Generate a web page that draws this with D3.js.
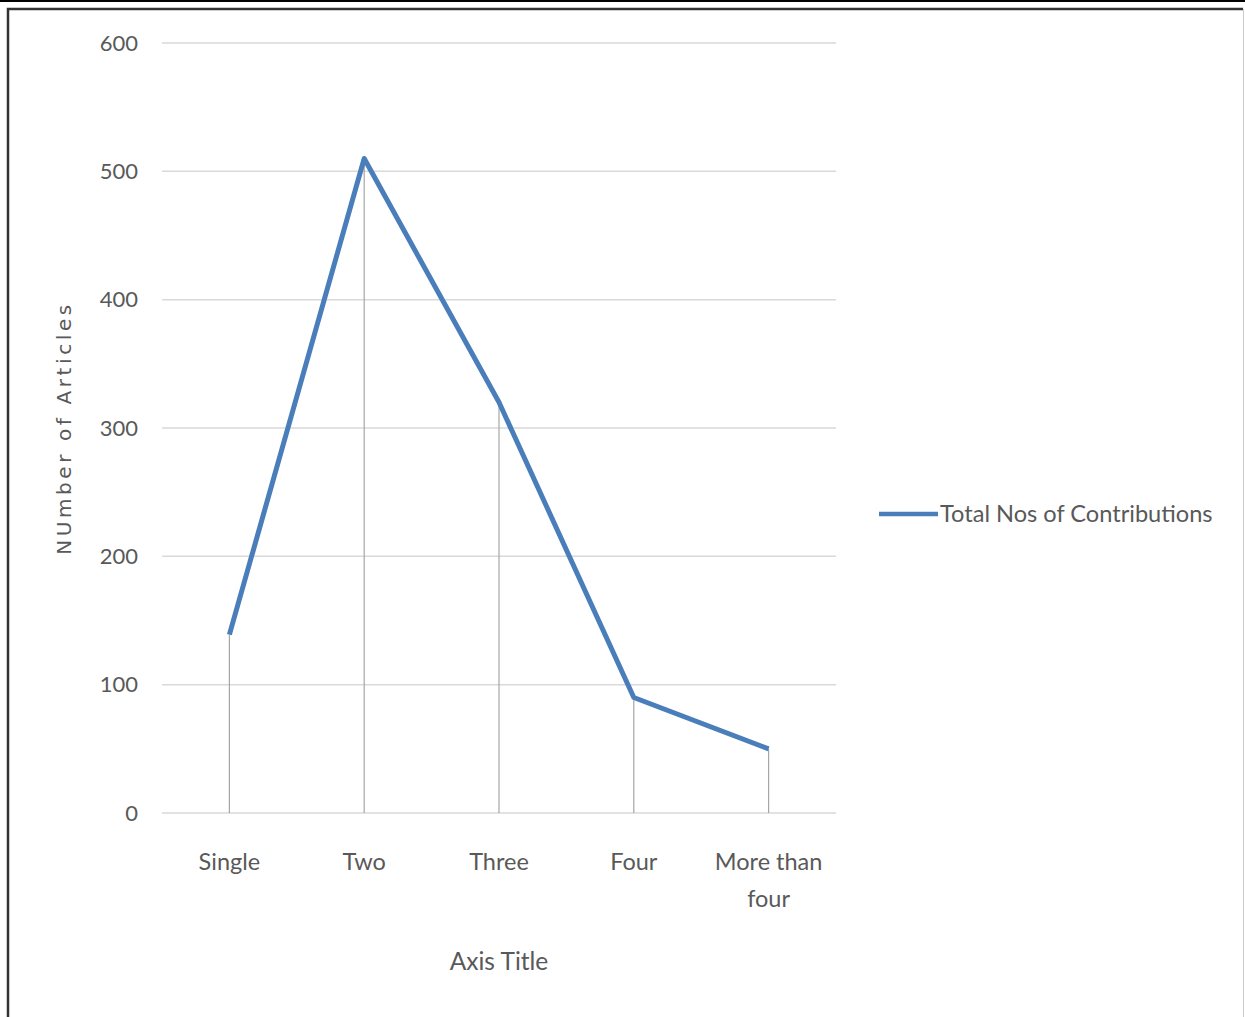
<!DOCTYPE html>
<html>
<head>
<meta charset="utf-8">
<script src="https://cdn.jsdelivr.net/npm/d3@7"></script>
<style>
  html, body { margin: 0; padding: 0; background: #fff; }
  svg { display: block; }
</style>
</head>
<body>
<svg id="chart" width="1245" height="1017"></svg>
<script>
// Contributions per article, by number of authors
const categories = ["Single", "Two", "Three", "Four", "More than four"];
const contributions = [139, 510, 320, 90, 50];
const yTicks = [0, 100, 200, 300, 400, 500, 600];
const seriesName = "Total Nos of Contributions";

const svg = d3.select("#chart");
const W = 1245, H = 1017;
const font = "Lato, 'Open Sans', sans-serif";

// outer frame
svg.append("line").attr("x1", 0).attr("x2", W).attr("y1", 1).attr("y2", 1)
  .attr("stroke", "#000").attr("stroke-width", 2);
svg.append("path")
  .attr("d", `M8,${H} L8,9 L${W - 2},9`)
  .attr("fill", "none").attr("stroke", "#333").attr("stroke-width", 2.5);
svg.append("line").attr("x1", W - 1.5).attr("x2", W - 1.5).attr("y1", 9).attr("y2", H)
  .attr("stroke", "#ccc").attr("stroke-width", 1);

const plot = { left: 162, right: 836, top: 43, bottom: 813 };

const x = d3.scaleBand().domain(categories).range([plot.left, plot.right]).padding(0);
const y = d3.scaleLinear().domain([0, 600]).range([plot.bottom, plot.top]);
const cx = d => x(d) + x.bandwidth() / 2;

// horizontal gridlines
svg.append("g").selectAll("line").data(yTicks).join("line")
  .attr("x1", plot.left).attr("x2", plot.right)
  .attr("y1", d => y(d)).attr("y2", d => y(d))
  .attr("stroke", "#d9d9d9").attr("stroke-width", 1.5);

// y tick labels
svg.append("g").selectAll("text").data(yTicks).join("text")
  .attr("x", 138).attr("y", d => y(d)).attr("dy", "0.35em")
  .attr("text-anchor", "end")
  .attr("font-family", font).attr("font-size", 22).attr("fill", "#595959")
  .text(d => d);

// drop lines from each point down to the axis
svg.append("g").selectAll("line").data(categories).join("line")
  .attr("x1", d => cx(d)).attr("x2", d => cx(d))
  .attr("y1", (d, i) => y(contributions[i])).attr("y2", y(0))
  .attr("stroke", "#a6a6a6").attr("stroke-width", 1.2);

// series line
const line = d3.line().x((d, i) => cx(categories[i])).y(d => y(d));
svg.append("path").datum(contributions)
  .attr("d", line)
  .attr("fill", "none").attr("stroke", "#4a7ebb").attr("stroke-width", 5)
  .attr("stroke-linejoin", "round");

// x category labels (wrapped)
const xl = svg.append("g").selectAll("text").data(categories).join("text")
  .attr("x", d => cx(d)).attr("y", 870)
  .attr("text-anchor", "middle")
  .attr("font-family", font).attr("font-size", 23.5).attr("fill", "#595959");
xl.each(function(d) {
  const t = d3.select(this);
  const parts = d === "More than four" ? ["More than", "four"] : [d];
  parts.forEach((p, i) => t.append("tspan").attr("x", cx(d)).attr("dy", i ? 37 : 0).text(p));
});

// axis titles
svg.append("text")
  .attr("x", (plot.left + plot.right) / 2).attr("y", 970)
  .attr("text-anchor", "middle")
  .attr("font-family", font).attr("font-size", 24.5).attr("fill", "#595959")
  .text("Axis Title");

svg.append("text")
  .attr("transform", "translate(71,428) rotate(-90)")
  .attr("text-anchor", "middle")
  .attr("font-family", "'DejaVu Sans', sans-serif").attr("font-size", 20)
  .attr("letter-spacing", 3.6).attr("fill", "#595959")
  .text("NUmber of Articles");

// legend
svg.append("line").attr("x1", 879).attr("x2", 938).attr("y1", 514).attr("y2", 514)
  .attr("stroke", "#4a7ebb").attr("stroke-width", 4.5);
svg.append("text").attr("x", 940).attr("y", 514).attr("dy", "0.35em")
  .attr("font-family", font).attr("font-size", 23.6).attr("fill", "#595959")
  .text(seriesName);
</script>
</body>
</html>
